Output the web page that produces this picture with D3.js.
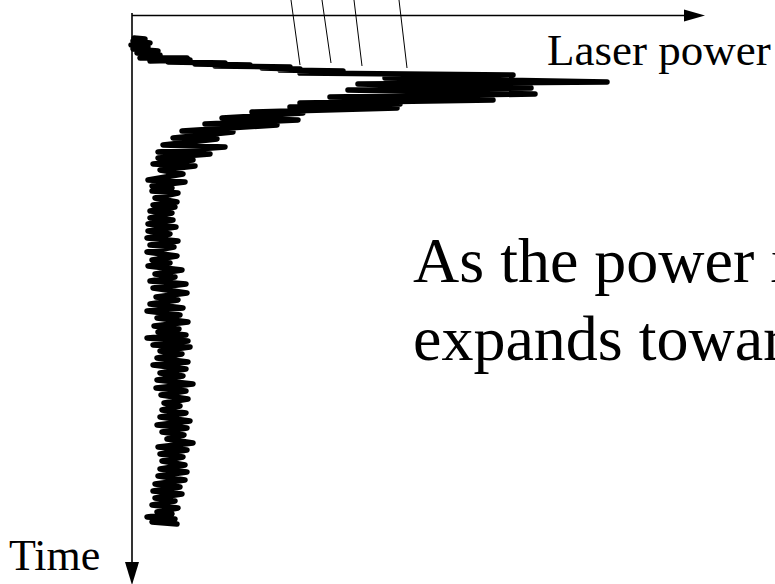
<!DOCTYPE html>
<html><head><meta charset="utf-8">
<script src="https://cdn.jsdelivr.net/npm/d3@7"></script>
<style>
html,body{margin:0;padding:0;background:#fff;overflow:hidden;}
svg{display:block;}
text{font-family:"Liberation Serif","Times New Roman",serif;fill:#000;}
</style></head>
<body>
<svg id="chart" width="775" height="584"></svg>
<script>
// Trace samples: power (horizontal offset units) and time (vertical units)
const powerValues = [2,13,1,18,-1,16,1,26,5,28,8,55,18,58,36,93,63,118,83,158,130,168,148,211,168,381,253,475,226,399,216,403,198,361,168,268,158,265,120,171,90,166,73,145,50,101,41,85,31,93,26,78,26,61,21,63,28,51,16,53,20,40,20,46,23,45,21,43,18,40,18,41,16,44,16,38,15,46,18,42,15,45,20,38,16,50,23,43,18,54,21,55,24,46,18,51,15,48,25,56,22,47,26,54,15,56,21,58,28,50,25,56,21,54,28,51,25,61,24,54,29,56,32,48,30,54,28,58,25,55,30,52,35,61,26,55,28,51,30,53,28,55,26,53,23,48,21,50,23,43,20,46,25,40,15,43,20,45];
const timeValues  = [23,24,26,28,30,32,34,36,38,40,43,43,46,45,47,48,49,50,51,52,53,54,55,56,58,60,63,67,69,73,75,79,82,85,88,89,92,93,97,98,103,105,109,110,116,117,123,124,130,132,137,139,143,145,149,151,155,159,165,167,171,173,176,178,183,187,190,192,196,198,203,205,209,212,216,219,223,226,230,232,237,241,245,248,251,255,259,262,266,269,273,278,282,285,289,293,296,300,303,307,311,314,317,320,323,326,330,332,336,339,343,347,350,354,358,361,365,369,373,376,380,384,388,391,395,398,402,406,410,413,417,420,424,428,432,435,439,442,446,450,454,457,461,465,469,472,476,479,483,486,490,493,497,499,502,504,507,509];
// Callout leader lines (power at top / bottom, time at bottom)
const leaderTopPower = [159,190,222,267];
const leaderBottomPower = [168,199,230,275];
const leaderBottomTime = [50,48,51,53];
// Labels (the note is cut by the right edge in the reference)
const xAxisLabel = "Laser power";
const yAxisLabel = "Time";
const noteLines = ["As the power i", "expands towar"];

const svg = d3.select("#chart");
const x = d3.scaleLinear().domain([0,570]).range([132,702]);
const y = d3.scaleLinear().domain([0,565]).range([15,580]);

// Axes
const axisY0 = y(0.5), axisX0 = x(0);
svg.append("line").attr("x1",axisX0).attr("y1",axisY0).attr("x2",x(552)).attr("y2",axisY0)
  .attr("stroke","#000").attr("stroke-width",1.6);
svg.append("path").attr("d",`M${x(552)},${axisY0-6}L${x(573)},${axisY0}L${x(552)},${axisY0+6}Z`).attr("fill","#000");
svg.append("line").attr("x1",axisX0).attr("y1",y(-2)).attr("x2",axisX0).attr("y2",y(548))
  .attr("stroke","#000").attr("stroke-width",1.6);
svg.append("path").attr("d",`M${axisX0-7},${y(547)}L${axisX0},${y(570)}L${axisX0+7},${y(547)}Z`).attr("fill","#000");

// Leader lines
leaderTopPower.forEach((p,i)=>{
  svg.append("line").attr("x1",x(p)).attr("y1",y(-15)).attr("x2",x(leaderBottomPower[i])).attr("y2",y(leaderBottomTime[i]))
    .attr("stroke","#000").attr("stroke-width",1);
});

// Trace
const pts = powerValues.map((p,i)=>[p,timeValues[i]]);
const line = d3.line().x(d=>x(d[0])).y(d=>y(d[1]));
svg.append("path").datum(pts).attr("d",line).attr("fill","none")
  .attr("stroke","#000").attr("stroke-width",5.5).attr("stroke-linejoin","round").attr("stroke-linecap","round");

// Labels
svg.append("text").attr("x",547).attr("y",65).attr("font-size",45).text(xAxisLabel);
svg.append("text").attr("x",9).attr("y",570).attr("font-size",44).text(yAxisLabel);
svg.append("text").attr("x",413).attr("y",282).attr("font-size",64).text(noteLines[0]);
svg.append("text").attr("x",413).attr("y",360).attr("font-size",64).text(noteLines[1]);
</script>
</body></html>
